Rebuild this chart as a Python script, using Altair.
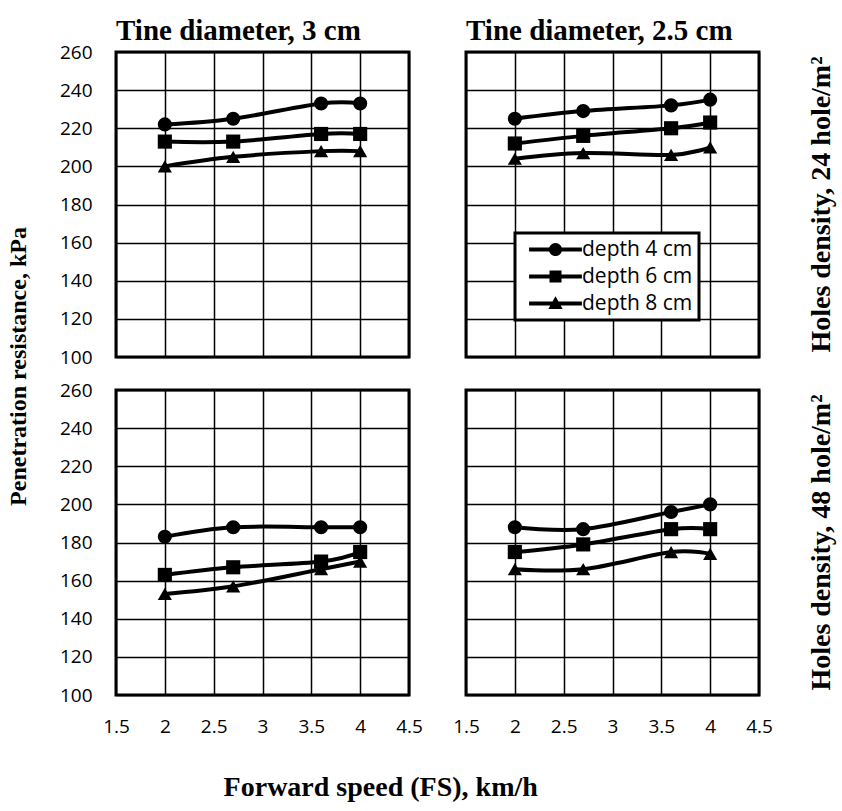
import altair as alt
import pandas as pd

speeds = [2.0, 2.7, 3.6, 4.0]
depths = ["depth 4 cm", "depth 6 cm", "depth 8 cm"]
tines = ["Tine diameter, 3 cm", "Tine diameter, 2.5 cm"]
densities = ["Holes density, 24 hole/m\u00b2", "Holes density, 48 hole/m\u00b2"]

# penetration resistance (kPa) per panel: [depth4, depth6, depth8]
tine3_d24 = [[222, 225, 233, 233], [213, 213, 217, 217], [200, 205, 208, 208]]
tine25_d24 = [[225, 229, 232, 235], [212, 216, 220, 223], [204, 207, 206, 210]]
tine3_d48 = [[183, 188, 188, 188], [163, 167, 170, 175], [153, 157, 166, 170]]
tine25_d48 = [[188, 187, 196, 200], [175, 179, 187, 187], [166, 166, 175, 174]]

x_ticks = [1.5, 2, 2.5, 3, 3.5, 4, 4.5]
y_ticks = [100, 120, 140, 160, 180, 200, 220, 240, 260]

panels = [
    (tines[0], densities[0], tine3_d24),
    (tines[1], densities[0], tine25_d24),
    (tines[0], densities[1], tine3_d48),
    (tines[1], densities[1], tine25_d48),
]
rows = []
for tine, dens, series in panels:
    for dep, vals in zip(depths, series):
        for s, v in zip(speeds, vals):
            rows.append({"tine": tine, "density": dens, "depth": dep, "speed": s, "pr": v})
df = pd.DataFrame(rows)

marker_shapes = ["circle", "square", "triangle-up"]
# legend symbols: a line segment with the marker on it (same winding so they fill as one)
legend_paths = [
    "M-4.4,-0.33 L4.4,-0.33 L4.4,0.33 L-4.4,0.33 Z M-1.1,0 A1.1,1.1 0 1,1 1.1,0 A1.1,1.1 0 1,1 -1.1,0 Z",
    "M-4.4,-0.33 L4.4,-0.33 L4.4,0.33 L-4.4,0.33 Z M-1,-1 L1,-1 L1,1 L-1,1 Z",
    "M-4.4,-0.33 L4.4,-0.33 L4.4,0.33 L-4.4,0.33 Z M0,-1.2 L1.2,0.9 L-1.2,0.9 Z",
]

X = alt.X("speed:Q", scale=alt.Scale(domain=[1.5, 4.5], nice=False),
          axis=alt.Axis(values=x_ticks, title=None, format="~g", labelFlush=False))
Y = alt.Y("pr:Q", scale=alt.Scale(domain=[100, 260], nice=False),
          axis=alt.Axis(values=y_ticks, title=None, labelFlush=False))

base = alt.Chart()
lines = base.mark_line(color="black", strokeWidth=4, interpolate="cardinal").encode(
    x=X, y=Y, detail="depth:N")
point_layers = [
    base.transform_filter(alt.datum.depth == dep).mark_point(
        shape=shp, filled=True, color="black", opacity=1, size=200).encode(x=X, y=Y)
    for dep, shp in zip(depths, marker_shapes)
]
legend_layer = base.transform_filter("false").mark_point(
    filled=True, color="black", opacity=1).encode(
    x=X, y=Y,
    shape=alt.Shape("depth:N", scale=alt.Scale(domain=depths, range=legend_paths),
                    legend=alt.Legend(title=None, orient="none", legendX=399, legendY=181,
                                      symbolSize=144, symbolFillColor="black",
                                      symbolStrokeWidth=0, symbolOpacity=1,
                                      symbolOffset=24, labelOffset=16,
                                      labelFont="Open Sans", labelFontSize=21, labelColor="black",
                                      rowPadding=5, padding=6, fillColor="white",
                                      strokeColor="black")))

layered = alt.layer(lines, *point_layers, legend_layer).properties(width=293, height=305)

faceted = layered.facet(
    data=df,
    column=alt.Column("tine:N", sort=tines,
                      header=alt.Header(title=None, labelFont="Liberation Serif", labelFontWeight="bold",
                                        labelFontSize=29, labelColor="black", labelPadding=4,
                                        labelAnchor="start", labelAlign="left")),
    row=alt.Row("density:N", sort=densities,
                header=alt.Header(title=None, labelOrient="right", labelAngle=270,
                                  labelFont="Liberation Serif", labelFontWeight="bold",
                                  labelFontSize=28, labelColor="black", labelPadding=47)),
    spacing={"row": 29, "column": 53},
).properties(title=alt.TitleParams("Forward speed (FS), km/h", orient="bottom", anchor="middle",
                                   font="Liberation Serif", fontWeight="bold", fontSize=28,
                                   color="black", offset=38, dx=-67))

chart = alt.hconcat(faceted).properties(
    title=alt.TitleParams("Penetration resistance, kPa", orient="left", anchor="middle",
                          font="Liberation Serif", fontWeight="bold", fontSize=24,
                          color="black", offset=28, dx=43),
    padding={"left": 7, "top": 17, "right": 0, "bottom": 0},
    background="white",
).configure_view(stroke="black", strokeWidth=3).configure_axis(
    grid=True, gridColor="black", gridWidth=1.5, gridOpacity=1, domain=False, ticks=False,
    labelFont="Open Sans", labelFontSize=19, labelColor="black",
).configure_axisX(labelPadding=20).configure_axisY(labelPadding=22).configure_legend(
    strokeWidth=3)

chart.save("out.html", embed_options={"renderer": "svg", "actions": False})
